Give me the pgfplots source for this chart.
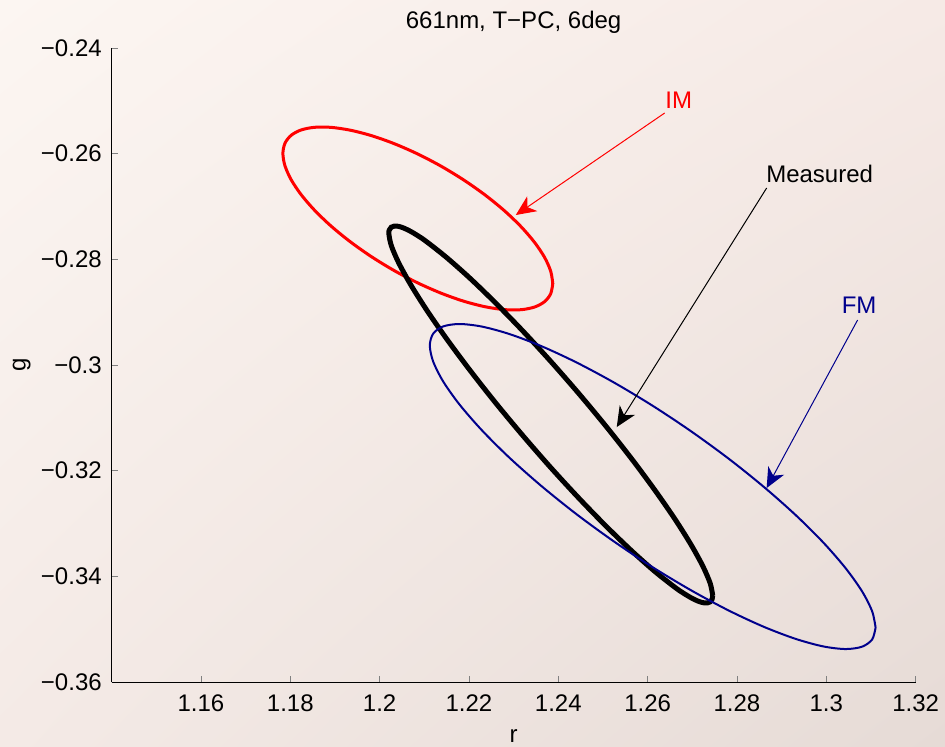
\documentclass[border=0pt]{standalone}
\usepackage{fontspec}
\setmainfont{Liberation Sans}
\usepackage{pgfplots}
\pgfplotsset{compat=1.18}
\usetikzlibrary{arrows.meta,shadings}

\definecolor{fmblue}{RGB}{0,0,140}
\definecolor{bgUL}{RGB}{252,246,242}
\definecolor{bgUR}{RGB}{246,234,230}
\definecolor{bgLL}{RGB}{244,234,230}
\definecolor{bgLR}{RGB}{230,219,214}

\begin{document}
\fontsize{12}{14}\selectfont
\begin{tikzpicture}
% figure background
\shade[upper left=bgUL, upper right=bgUR, lower left=bgLL, lower right=bgLR]
  (-55.8pt,-32pt) rectangle (416.7pt,341pt);

\begin{axis}[
    at={(0pt,0pt)}, anchor=south west,
    scale only axis, width=402pt, height=317pt,
    xmin=1.14, xmax=1.32,
    ymin=-0.36, ymax=-0.24,
    axis x line*=bottom, axis y line*=left,
    tick align=inside, major tick length=3pt,
    xtick={1.16,1.18,1.20,1.22,1.24,1.26,1.28,1.30,1.32},
    xticklabels={1.16,1.18,1.2,1.22,1.24,1.26,1.28,1.3,1.32},
    ytick={-0.36,-0.34,-0.32,-0.30,-0.28,-0.26,-0.24},
    yticklabels={−0.36,−0.34,−0.32,−0.3,−0.28,−0.26,−0.24},
    xticklabel style={inner sep=0pt}, xticklabel shift=6pt,
    yticklabel style={inner sep=0pt}, yticklabel shift=4.75pt,
    clip=false,
  ]

  % IM
  \addplot[red, line width=1.5pt, smooth] coordinates {
    (1.23877,-0.28457) (1.23831,-0.28226) (1.23695,-0.27965) (1.23472,-0.27682)
    (1.23170,-0.27385) (1.22798,-0.27083) (1.22366,-0.26785) (1.21889,-0.26501)
    (1.21381,-0.26239) (1.20856,-0.26007) (1.20331,-0.25812) (1.19823,-0.25660)
    (1.19346,-0.25556) (1.18914,-0.25502) (1.18542,-0.25501) (1.18240,-0.25552)
    (1.18017,-0.25654) (1.17881,-0.25804) (1.17835,-0.25997) (1.17881,-0.26228)
    (1.18017,-0.26489) (1.18240,-0.26772) (1.18542,-0.27069) (1.18914,-0.27371)
    (1.19346,-0.27669) (1.19823,-0.27953) (1.20331,-0.28215) (1.20856,-0.28447)
    (1.21381,-0.28642) (1.21889,-0.28794) (1.22366,-0.28898) (1.22798,-0.28952)
    (1.23170,-0.28953) (1.23472,-0.28902) (1.23695,-0.28800) (1.23831,-0.28650)
    (1.23877,-0.28457)
  };

  % Measured
  \addplot[black, line width=2.5pt, smooth] coordinates {
    (1.27457,-0.34360) (1.27402,-0.34134) (1.27238,-0.33810) (1.26971,-0.33399)
    (1.26609,-0.32913) (1.26162,-0.32368) (1.25645,-0.31778) (1.25072,-0.31163)
    (1.24462,-0.30542) (1.23832,-0.29932) (1.23203,-0.29353) (1.22592,-0.28822)
    (1.22020,-0.28355) (1.21502,-0.27967) (1.21055,-0.27668) (1.20863,-0.27556)
    (1.20693,-0.27470) (1.20547,-0.27410) (1.20426,-0.27376) (1.20331,-0.27370)
    (1.20262,-0.27391) (1.20221,-0.27439) (1.20207,-0.27514) (1.20262,-0.27740)
    (1.20426,-0.28064) (1.20693,-0.28475) (1.21055,-0.28961) (1.21502,-0.29507)
    (1.22020,-0.30096) (1.22592,-0.30711) (1.23203,-0.31332) (1.23832,-0.31942)
    (1.24462,-0.32521) (1.25072,-0.33052) (1.25645,-0.33519) (1.26162,-0.33908)
    (1.26609,-0.34206) (1.26801,-0.34318) (1.26971,-0.34404) (1.27117,-0.34465)
    (1.27238,-0.34498) (1.27334,-0.34504) (1.27402,-0.34483) (1.27443,-0.34435)
    (1.27457,-0.34360)
  };

  % FM
  \addplot[fmblue, line width=1pt, smooth] coordinates {
    (1.31104,-0.34970) (1.31028,-0.34664) (1.30803,-0.34286) (1.30435,-0.33848)
    (1.29937,-0.33363) (1.29322,-0.32846) (1.28609,-0.32312) (1.27821,-0.31777)
    (1.26981,-0.31259) (1.26114,-0.30772) (1.25248,-0.30332) (1.24407,-0.29951)
    (1.23619,-0.29642) (1.22907,-0.29414) (1.22292,-0.29273) (1.21793,-0.29224)
    (1.21425,-0.29269) (1.21200,-0.29406) (1.21124,-0.29631) (1.21200,-0.29936)
    (1.21425,-0.30314) (1.21793,-0.30752) (1.22292,-0.31237) (1.22907,-0.31755)
    (1.23619,-0.32288) (1.24407,-0.32823) (1.25248,-0.33341) (1.26114,-0.33828)
    (1.26981,-0.34268) (1.27821,-0.34649) (1.28609,-0.34958) (1.29322,-0.35186)
    (1.29937,-0.35327) (1.30435,-0.35376) (1.30803,-0.35331) (1.31028,-0.35194)
    (1.31104,-0.34970)
  };

  % annotations
  \draw[red, line width=0.5pt, -{Stealth[length=10pt,width=9pt,inset=3pt]}]
    (axis cs:1.26383,-0.25230) -- (axis cs:1.23049,-0.27161);
  \node[red, inner sep=0pt] at (axis cs:1.26696,-0.24984) {IM};

  \draw[black, line width=0.5pt, -{Stealth[length=10pt,width=9pt,inset=3pt]}]
    (axis cs:1.28665,-0.26650) -- (axis cs:1.25309,-0.31174);
  \node[black, inner sep=0pt] at (axis cs:1.29851,-0.26376) {Measured};

  \draw[fmblue, line width=0.5pt, -{Stealth[length=10pt,width=9pt,inset=3pt]}]
    (axis cs:1.30701,-0.29149) -- (axis cs:1.28665,-0.32329);
  \node[fmblue, inner sep=0pt] at (axis cs:1.30735,-0.28874) {FM};

  % title and axis labels
  \node[anchor=base, inner sep=0pt] at ([yshift=10pt]axis description cs:0.5,1) {661nm, T−PC, 6deg};
  \node[anchor=base, inner sep=0pt] at ([yshift=-30pt]axis description cs:0.5,0) {r};
  \node[rotate=90, inner sep=0pt] at ([xshift=-45pt]axis description cs:0,0.5) {g};
\end{axis}

\pgfresetboundingbox
\path[use as bounding box] (-55.8pt,-32pt) rectangle (416.7pt,341pt);
\end{tikzpicture}
\end{document}
